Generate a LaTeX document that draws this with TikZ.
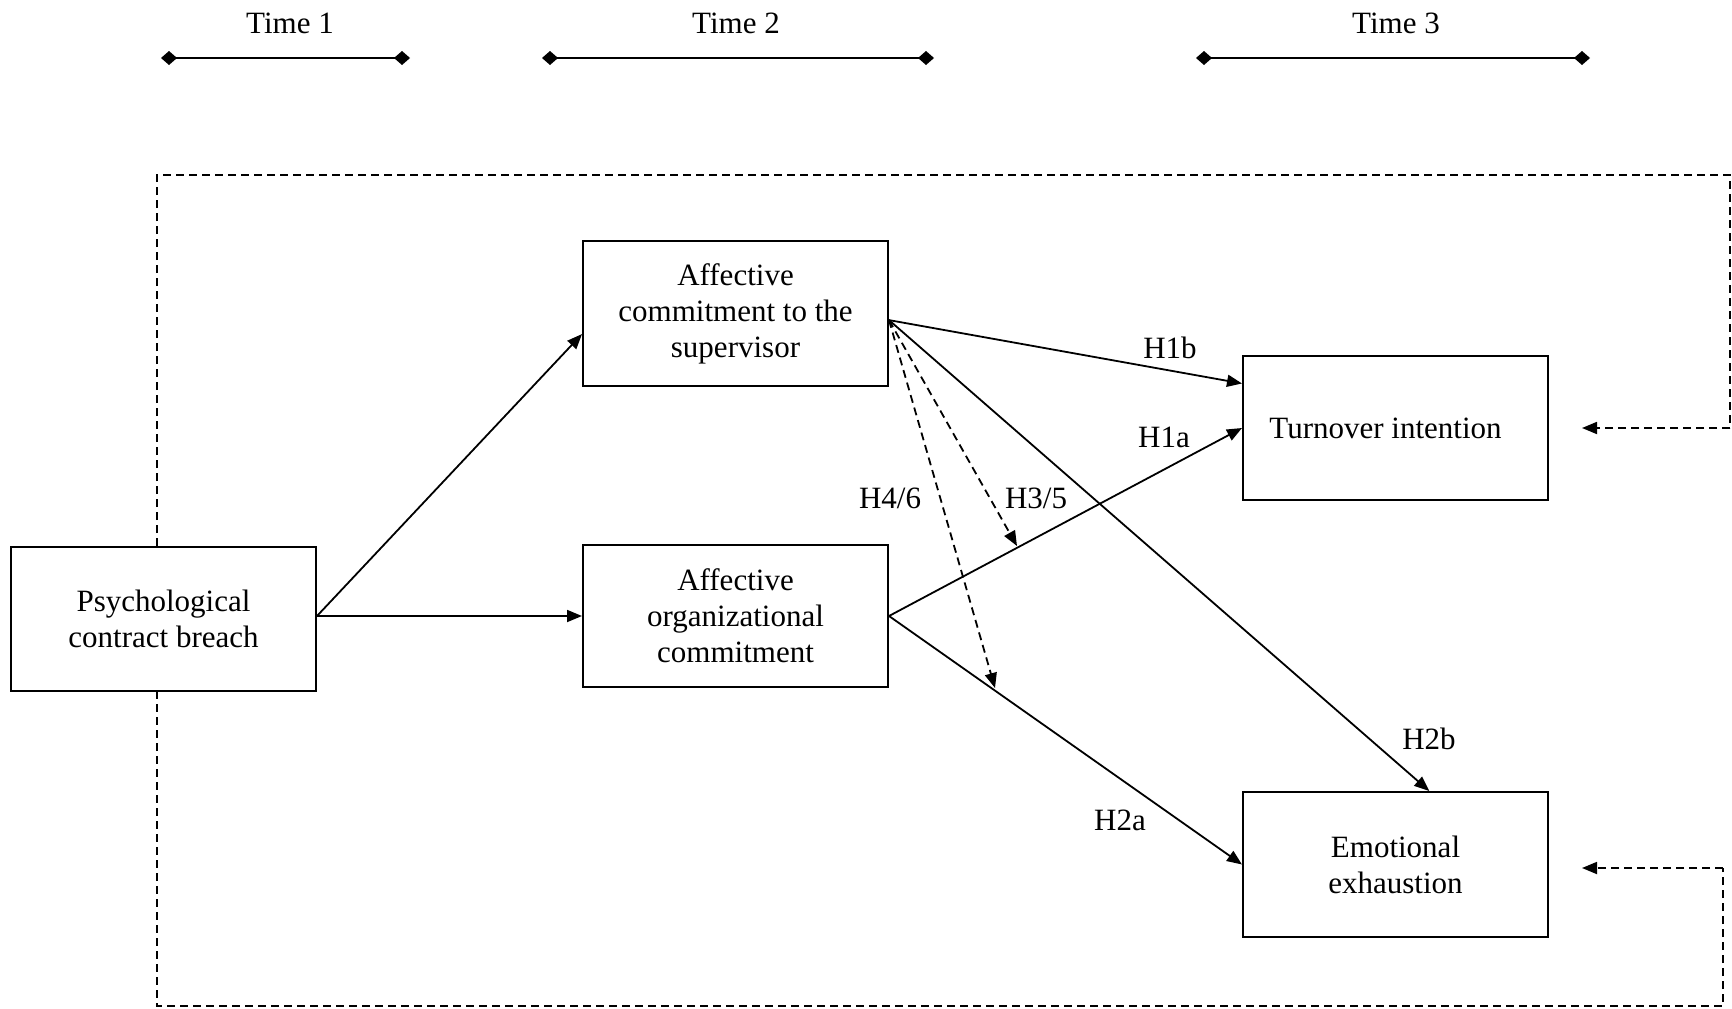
\documentclass[tikz,border=0pt]{standalone}
\usepackage{fontspec}
\setmainfont{Liberation Serif}
\usetikzlibrary{arrows.meta,calc}
\begin{document}
\begin{tikzpicture}[x=1pt,y=-1pt,
  every node/.style={font=\fontsize{31}{36}\selectfont},
  box/.style={draw,line width=2pt,minimum width=305pt,minimum height=144pt,align=center,inner sep=0pt,fill=white},
  conn/.style={line width=1.8pt,-{Triangle[length=15pt,width=12pt]}},
  dconn/.style={line width=1.8pt,dash pattern=on 8pt off 5pt,-{Triangle[length=15pt,width=12pt]}},
  frame/.style={line width=1.8pt,dash pattern=on 8pt off 5pt},
  timebar/.style={line width=1.8pt,{Diamond[length=16pt,width=14pt]}-{Diamond[length=16pt,width=14pt]}},
  lbl/.style={inner sep=0pt}]
\useasboundingbox (0,0) rectangle (1732,1009);

% time bars
\node[lbl] (t1) at (290,23) {Time 1};
\node[lbl] (t2) at (736,23) {Time 2};
\node[lbl] (t3) at (1396,23) {Time 3};
\coordinate (t1a) at (161,58); \coordinate (t1b) at (410,58);
\coordinate (t2a) at (542,58); \coordinate (t2b) at (934,58);
\coordinate (t3a) at (1196,58); \coordinate (t3b) at (1590,58);
\draw[timebar] (t1a) -- (t1b);
\draw[timebar] (t2a) -- (t2b);
\draw[timebar] (t3a) -- (t3b);

% dashed frame
\coordinate (f1) at (157,546);
\coordinate (f2) at (157,175);
\coordinate (f3) at (1730,175);
\coordinate (f4) at (1730,428);
\coordinate (f5) at (1582,428);
\coordinate (g1) at (157,691);
\coordinate (g2) at (157,1006);
\coordinate (g3) at (1723,1006);
\coordinate (g4) at (1723,868);
\coordinate (g5) at (1582,868);
\draw[frame] (f1) -- (f2) -- (f3) -- (f4);
\draw[dconn] (f4) -- (f5);
\draw[frame] (g1) -- (g2) -- (g3) -- (g4);
\draw[dconn] (g4) -- (g5);

% boxes
\node[box] (pcb) at (163.5,618.5) {Psychological\\contract breach};
\node[box,minimum height=145pt] (acs) at (735.5,313.5) {Affective\\commitment to the\\supervisor};
\node[box,minimum height=142pt] (aoc) at (735.5,616) {Affective\\organizational\\commitment};
\node[box] (ti) at (1395.5,428) {\hspace*{-20pt}Turnover intention};
\node[box,minimum height=145pt] (ee) at (1395.5,864.5) {Emotional\\exhaustion};

% connectors
\coordinate (pcbout) at (aoc.west -| pcb.east);
\coordinate (acsout) at ($(acs.east)!0.09!(acs.south east)$);
\draw[conn] (pcbout) -- ($(acs.west)!0.28!(acs.south west)$);
\draw[conn] (pcbout) -- (aoc.west);
\draw[conn] (acsout) -- ($(ti.west)!0.61!(ti.north west)$);
\draw[conn] (acsout) -- ($(ee.north)!0.22!(ee.north east)$);
\draw[conn] (aoc.east) -- (ti.west);
\draw[conn] (aoc.east) -- (ee.west);
\coordinate (h35) at (1017,546);
\coordinate (h46) at (995,688);
\draw[dconn] (acsout) -- (h35);
\draw[dconn] (acsout) -- (h46);

% labels
\node[lbl] (l1b) at (1170,348) {H1b};
\node[lbl] (l2b) at (1429,739) {H2b};
\node[lbl] (l1a) at (1164,437) {H1a};
\node[lbl] (l2a) at (1120,820) {H2a};
\node[lbl] (l35) at (1036,498) {H3/5};
\node[lbl] (l46) at (890,498) {H4/6};
\end{tikzpicture}
\end{document}
